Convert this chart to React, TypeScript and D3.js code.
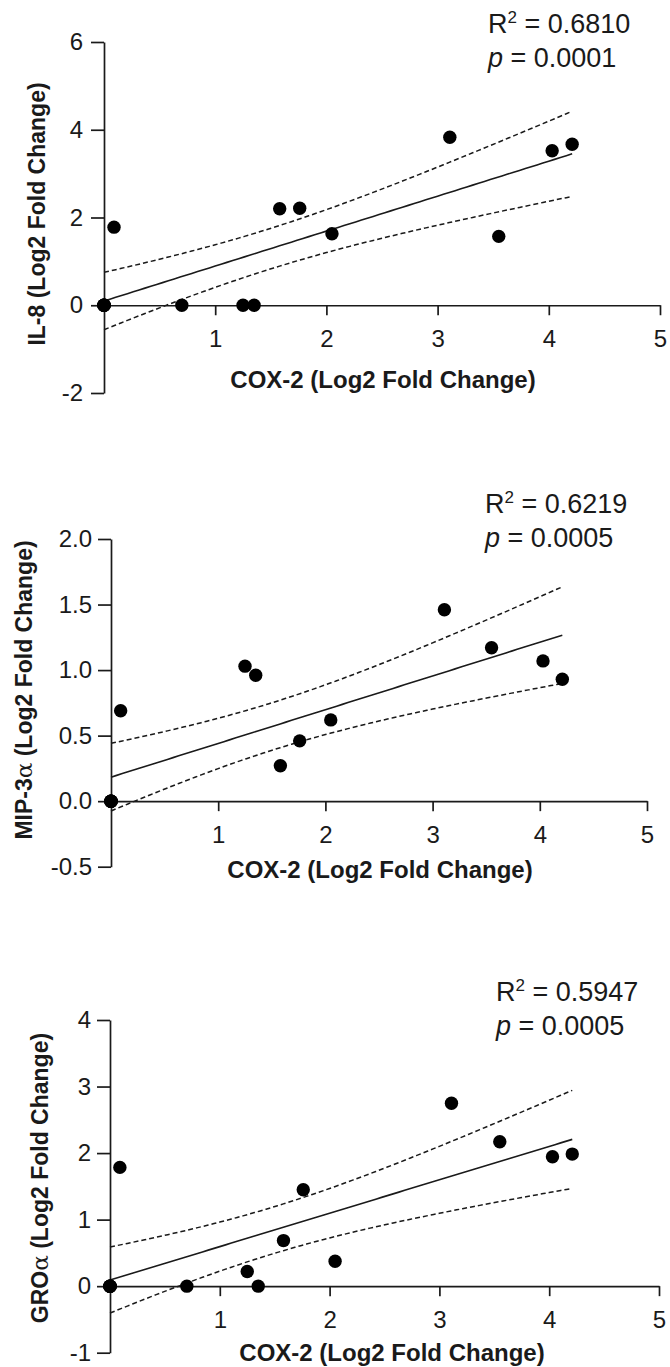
import React, { useEffect, useRef } from 'react';
import * as d3 from 'd3';

// COX-2 log2 fold change (x for all three panels). Five samples sit on the origin.
const cox2 = [0, 0, 0, 0, 0, 0.09, 0.70, 1.25, 1.35, 1.58, 1.76, 2.05, 3.11, 3.55, 4.03, 4.21];
const il8 = [0, 0, 0, 0, 0, 1.78, 0, 0, 0, 2.20, 2.21, 1.63, 3.83, 1.57, 3.52, 3.67];
const mip3a = [0, 0, 0, 0, 0, 0.69, null, 1.03, 0.96, 0.27, 0.46, 0.62, 1.46, 1.17, 1.07, 0.93];
const groa = [0, 0, 0, 0, 0, 1.785, 0, 0.22, 0, 0.685, 1.45, 0.375, 2.75, 2.17, 1.945, 1.985];

const xTicks = [1, 2, 3, 4, 5];
const il8Ticks = [-2, 0, 2, 4, 6];
const mipTicks = [-0.5, 0, 0.5, 1, 1.5, 2];
const groTicks = [-1, 0, 1, 2, 3, 4];

const r2Labels = ['0.6810', '0.6219', '0.5947'];
const pLabels = ['0.0001', '0.0005', '0.0005'];

// two-tailed 95% t values
const T95: Record<number, number> = { 10: 2.228, 11: 2.201, 12: 2.179, 13: 2.16, 14: 2.145, 15: 2.131, 16: 2.12 };

const FONT = '"Liberation Sans", Arial, Helvetica, sans-serif';
const INK = '#1a1a1a';

function linFit(xs: number[], ys: (number | null)[]) {
  const pts = xs.map((x, i) => [x, ys[i]] as [number, number | null]).filter(p => p[1] != null) as [number, number][];
  const n = pts.length;
  const mx = d3.mean(pts, p => p[0]) as number;
  const my = d3.mean(pts, p => p[1]) as number;
  const sxx = d3.sum(pts, p => (p[0] - mx) ** 2);
  const sxy = d3.sum(pts, p => (p[0] - mx) * (p[1] - my));
  const syy = d3.sum(pts, p => (p[1] - my) ** 2);
  const b = sxy / sxx;
  const a = my - b * mx;
  const s = Math.sqrt((syy - b * sxy) / (n - 2));
  const t = T95[n - 2] || 2.1;
  const half = (x: number) => t * s * Math.sqrt(1 / n + (x - mx) ** 2 / sxx);
  return { pts, a, b, half, x0: d3.min(pts, p => p[0]) as number, x1: d3.max(pts, p => p[0]) as number };
}

const dash = (d: number) => String(d).replace('\u2212', '-');

const panels = [
  {
    ys: il8, yTicks: il8Ticks, yDomain: [-2, 6], fmt: dash,
    xr: [104, 660], yr: [393, 42], yTitle: 'IL-8', yTitleX: 45, yTitleY: 214,
    xTitleX: 383, xTitleY: 388, statX: 488, statY: 33, yPad: 8,
  },
  {
    ys: mip3a, yTicks: mipTicks, yDomain: [-0.5, 2], fmt: (d: number) => d3.format('.1f')(d).replace('\u2212', '-'),
    xr: [111, 647], yr: [866.7, 539], yTitle: 'MIP-3', yTitleX: 32, yTitleY: 690,
    xTitleX: 380, xTitleY: 878, statX: 485, statY: 513, yPad: 6, alpha: true,
  },
  {
    ys: groa, yTicks: groTicks, yDomain: [-1, 4], fmt: dash,
    xr: [110, 659], yr: [1352.7, 1020], yTitle: 'GRO', yTitleX: 48, yTitleY: 1178,
    xTitleX: 392, xTitleY: 1361, statX: 496, statY: 1001, yPad: 6, alpha: true,
  },
];

export default function App() {
  const ref = useRef<SVGSVGElement | null>(null);

  useEffect(() => {
    const svg = d3.select(ref.current);
    svg.selectAll('*').remove();

    panels.forEach((p, i) => {
      const x = d3.scaleLinear().domain([0, 5]).range(p.xr);
      const y = d3.scaleLinear().domain(p.yDomain).range(p.yr);
      const g = svg.append('g');
      const fit = linFit(cox2, p.ys);

      // x axis sits on y = 0
      const xa = g.append('g')
        .attr('transform', `translate(0,${y(0)})`)
        .call(d3.axisBottom(x).tickValues(xTicks).tickSize(10).tickSizeOuter(0).tickPadding(15).tickFormat(d => String(d)));
      const ya = g.append('g')
        .attr('transform', `translate(${x(0)},0)`)
        .call(d3.axisLeft(y).tickValues(p.yTicks).tickSize(13).tickSizeOuter(0).tickPadding(p.yPad).tickFormat(d => p.fmt(d as number)));

      [xa, ya].forEach(ax => {
        ax.select('.domain').attr('stroke', INK).attr('stroke-width', 1.7);
        ax.selectAll('.tick line').attr('stroke', INK).attr('stroke-width', 1.7);
        ax.selectAll('.tick text').attr('fill', INK).attr('font-size', 24).attr('font-family', FONT);
      });

      // fit line and 95% confidence band
      const xs = d3.range(fit.x0, fit.x1 + 1e-9, (fit.x1 - fit.x0) / 80);
      const line = d3.line<number>().x(d => x(d));
      g.append('path')
        .attr('d', line.y(d => y(fit.a + fit.b * d))(xs))
        .attr('fill', 'none').attr('stroke', INK).attr('stroke-width', 1.6);
      [1, -1].forEach(sg => {
        g.append('path')
          .attr('d', line.y(d => y(fit.a + fit.b * d + sg * fit.half(d)))(xs))
          .attr('fill', 'none').attr('stroke', INK).attr('stroke-width', 1.5)
          .attr('stroke-dasharray', '5,3');
      });

      g.selectAll('circle.dot')
        .data(fit.pts)
        .enter()
        .append('circle')
        .attr('class', 'dot')
        .attr('cx', d => x(d[0]))
        .attr('cy', d => y(d[1]))
        .attr('r', 6.7)
        .attr('fill', '#000');

      // axis titles
      const yt = g.append('text')
        .attr('transform', `translate(${p.yTitleX},${p.yTitleY}) rotate(-90)`)
        .attr('text-anchor', 'middle')
        .attr('font-family', FONT).attr('font-size', 23).attr('font-weight', 'bold').attr('fill', INK);
      yt.append('tspan').text(p.yTitle);
      if (p.alpha) yt.append('tspan').attr('font-weight', 'normal').attr('font-family', '"DejaVu Serif", serif').text('\u03b1');
      yt.append('tspan').text(' (Log2 Fold Change)');

      g.append('text')
        .attr('x', p.xTitleX).attr('y', p.xTitleY)
        .attr('text-anchor', 'middle')
        .attr('font-family', FONT).attr('font-size', 24).attr('font-weight', 'bold').attr('fill', INK)
        .text('COX-2 (Log2 Fold Change)');

      // R² and p
      const st = g.append('text')
        .attr('x', p.statX).attr('y', p.statY)
        .attr('font-family', FONT).attr('font-size', 27).attr('fill', INK);
      st.append('tspan').text('R');
      st.append('tspan').attr('font-size', 17).attr('dy', -10).text('2');
      st.append('tspan').attr('dy', 10).text(` = ${r2Labels[i]}`);
      const pt = g.append('text')
        .attr('x', p.statX).attr('y', p.statY + 34)
        .attr('font-family', FONT).attr('font-size', 27).attr('fill', INK);
      pt.append('tspan').attr('font-style', 'italic').text('p');
      pt.append('tspan').text(` = ${pLabels[i]}`);
    });
  }, []);

  return (
    <svg ref={ref} width={670} height={1367}
      style={{ position: 'absolute', left: 0, top: 0, background: '#fff' }} />
  );
}
